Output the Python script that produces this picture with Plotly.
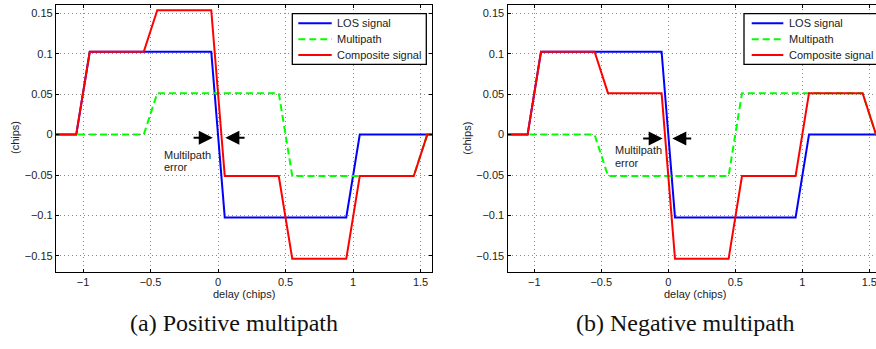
import plotly.graph_objects as go

# Delay grid (chips) and discriminator outputs
delay = [-1.2, -1.05, -0.95, -0.55, -0.45, -0.05, 0.05, 0.45, 0.55, 0.95, 1.05, 1.45, 1.55, 1.6]
los_signal = [0, 0, 0.1025, 0.1025, 0.1025, 0.1025, -0.1025, -0.1025, -0.1025, -0.1025, 0, 0, 0, 0]

multipath_pos = [0, 0, 0, 0, 0.05125, 0.05125, 0.05125, 0.05125, -0.05125, -0.05125, -0.05125, -0.05125, 0, 0]
composite_pos = [0, 0, 0.1025, 0.1025, 0.15375, 0.15375, -0.05125, -0.05125, -0.15375, -0.15375, -0.05125, -0.05125, 0, 0]

multipath_neg = [0, 0, 0, 0, -0.05125, -0.05125, -0.05125, -0.05125, 0.05125, 0.05125, 0.05125, 0.05125, 0, 0]
composite_neg = [0, 0, 0.1025, 0.1025, 0.05125, 0.05125, -0.15375, -0.15375, -0.05125, -0.05125, 0.05125, 0.05125, 0, 0]

series_names = ["LOS signal", "Multipath", "Composite signal"]
captions = ["(a) Positive multipath", "(b) Negative multipath"]

x_ticks = [-1, -0.5, 0, 0.5, 1, 1.5]
x_tick_text = ["\u22121", "\u22120.5", "0", "0.5", "1", "1.5"]
y_ticks = [-0.15, -0.1, -0.05, 0, 0.05, 0.1, 0.15]
y_tick_text = ["\u22120.15", "\u22120.1", "\u22120.05", "0", "0.05", "0.1", "0.15"]

W, H = 876, 349
FONT = "Liberation Sans, Arial, Helvetica, sans-serif"
BLUE, GREEN, RED = "#0000ff", "#00ff00", "#ff0000"
GREEN_DASH = "7px,4px"


def px(x):
    return x / W


def py(y):
    return 1 - y / H


fig = go.Figure()

panels = [
    dict(mp=multipath_pos, comp=composite_pos, xa="x", ya="y"),
    dict(mp=multipath_neg, comp=composite_neg, xa="x2", ya="y2"),
]

for p in panels:
    fig.add_trace(go.Scatter(x=delay, y=los_signal, mode="lines", xaxis=p["xa"], yaxis=p["ya"],
                             line=dict(color=BLUE, width=2), showlegend=False))
    fig.add_trace(go.Scatter(x=delay, y=p["mp"], mode="lines", xaxis=p["xa"], yaxis=p["ya"],
                             line=dict(color=GREEN, width=2, dash=GREEN_DASH), showlegend=False))
    fig.add_trace(go.Scatter(x=delay, y=p["comp"], mode="lines", xaxis=p["xa"], yaxis=p["ya"],
                             line=dict(color=RED, width=2), showlegend=False))

axis_common = dict(
    showline=True, linecolor="black", linewidth=1.3,
    ticks="inside", ticklen=3, tickcolor="black", tickwidth=1,
    showgrid=True, gridcolor="#8a8a8a", gridwidth=1, griddash="1px,3px",
    zeroline=False, tickfont=dict(family=FONT, size=11, color="#222222"),
    ticklabeloverflow="allow",
)

y_dom = [py(272), py(5)]

fig.update_layout(
    width=W, height=H, margin=dict(l=0, r=0, t=0, b=0, autoexpand=False),
    paper_bgcolor="white", plot_bgcolor="white", showlegend=False,
    xaxis=dict(axis_common, domain=[px(56), px(432)], range=[-1.2, 1.585], anchor="y",
               tickvals=x_ticks, ticktext=x_tick_text, mirror="ticks"),
    yaxis=dict(axis_common, domain=y_dom, range=[-0.17, 0.1603], anchor="x",
               tickvals=y_ticks, ticktext=y_tick_text, mirror="ticks"),
    xaxis2=dict(axis_common, domain=[px(507.5), 1], range=[-1.2, 1.55], anchor="y2",
                tickvals=x_ticks, ticktext=x_tick_text, mirror="ticks"),
    yaxis2=dict(axis_common, domain=y_dom, range=[-0.17, 0.1603], anchor="x2",
                tickvals=y_ticks, ticktext=y_tick_text, mirror=False),
)

annotations = []
shapes = []

# Axis titles and sub-figure captions
for cx, ylab_x, cap in [(244, 15, captions[0]), (695, 466.7, captions[1])]:
    annotations.append(dict(xref="paper", yref="paper", x=px(cx), y=py(294), text="delay (chips)",
                            showarrow=False, xanchor="center", yanchor="middle",
                            font=dict(family=FONT, size=11, color="#222222")))
    annotations.append(dict(xref="paper", yref="paper", x=px(ylab_x), y=py(138), text="(chips)",
                            showarrow=False, xanchor="center", yanchor="middle", textangle=-90,
                            font=dict(family=FONT, size=11, color="#222222")))
    annotations.append(dict(xref="paper", yref="paper", x=px(cx - 10), y=py(323), text=cap,
                            showarrow=False, xanchor="center", yanchor="middle",
                            font=dict(family="Liberation Serif, Times New Roman, serif", size=24,
                                      color="#111111")))

# Multipath error arrows and label
arrow_sets = [
    ("x", "y", [(-0.192, -0.039), (0.208, 0.0545)], -0.004, -0.417, (-0.0254, -0.0398)),
    ("x2", "y2", [(-0.199, -0.042), (0.182, 0.03)], -0.0047, -0.415, (-0.0192, -0.0356)),
]
for xa, ya, arrows, ay, tx, (ty1, ty2) in arrow_sets:
    for tail, head in arrows:
        annotations.append(dict(xref=xa, yref=ya, axref=xa, ayref=ya, x=head, y=ay, ax=tail, ay=ay,
                                text="", showarrow=True, arrowhead=2, arrowsize=1.4,
                                arrowwidth=2, arrowcolor="black", standoff=0, startstandoff=0))
    for ty, t in [(ty1, "Multilpath"), (ty2, "error")]:
        annotations.append(dict(xref=xa, yref=ya, x=tx, y=ty, text=t, showarrow=False,
                                xanchor="left", yanchor="middle",
                                font=dict(family=FONT, size=11, color="#222222")))

# Legend boxes
legend_rows = [23.3, 39.3, 55.0]
legend_styles = [dict(color=BLUE, width=2), dict(color=GREEN, width=2, dash=GREEN_DASH),
                 dict(color=RED, width=2)]
for bx0, bx1, lx0, lx1, tx in [(292.3, 426.3, 298.3, 331.7, 335), (744, 900, 751.7, 783.3, 786.7)]:
    shapes.append(dict(type="rect", xref="paper", yref="paper", x0=px(bx0), x1=px(bx1),
                       y0=py(64.3), y1=py(13.7), line=dict(color="black", width=1.3),
                       fillcolor="white", layer="above"))
    for ry, style, name in zip(legend_rows, legend_styles, series_names):
        shapes.append(dict(type="line", xref="paper", yref="paper", x0=px(lx0), x1=px(lx1),
                           y0=py(ry), y1=py(ry), line=style, layer="above"))
        annotations.append(dict(xref="paper", yref="paper", x=px(tx), y=py(ry), text=name,
                                showarrow=False, xanchor="left", yanchor="middle",
                                font=dict(family=FONT, size=11, color="#222222")))

fig.update_layout(annotations=annotations, shapes=shapes)
fig.write_html("out.html")
